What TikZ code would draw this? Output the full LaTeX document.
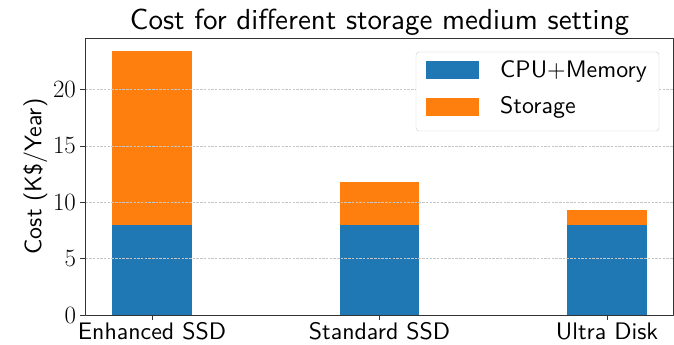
\documentclass[tikz,border=0pt]{standalone}
\usepackage{fontspec}
\setsansfont{lmsans10-regular.otf}
\definecolor{barblue}{HTML}{1F77B4}
\definecolor{barorange}{HTML}{FF7F0E}
\tikzset{
  gridline/.style={black!22,line width=0.7pt,dash pattern=on 2.5pt off 1.2pt},
  axisframe/.style={black!80,line width=0.8pt},
  ticklabel/.style={font=\fontsize{23}{26}\selectfont},
  textlabel/.style={font=\fontsize{23.9}{27}\selectfont\sffamily}
}
\begin{document}
\begin{tikzpicture}[line join=round,line cap=butt,x=1pt,y=1pt]
	\useasboundingbox (0,0) rectangle (674,345);
	\node[font=\fontsize{29}{33}\selectfont\sffamily,anchor=base] (title) at (379.5,315.5) {Cost for different storage medium setting};
	\begin{scope}[shift={(152,30)},x=227.5pt,y=11.27pt]
		\def\costbar#1#2{
			\fill[barblue] (#1-0.175,0) rectangle (#1+0.175,8);
			\fill[barorange] (#1-0.175,8) rectangle (#1+0.175,#2);
		}
		\costbar{0}{23.4}
		\costbar{1}{11.83}
		\costbar{2}{9.35}
		\foreach \v in {5,10,15,20}
			\draw[gridline] (-0.2925,\v) -- (2.2925,\v);
		\foreach \v in {0,5,10,15,20}{
			\draw[axisframe] (-0.2925,\v) -- ++(-5pt,0);
			\node[ticklabel,anchor=east] (y\v) at ([xshift=-6pt]-0.2925,\v) {$\v$};
		}
		\foreach \i/\lab/\nm in {0/Enhanced SSD/xa,1/Standard SSD/xb,2/Ultra Disk/xc}{
			\draw[axisframe] (\i,0) -- ++(0,-5pt);
			\node[textlabel,anchor=north] (\nm) at ([yshift=-4pt]\i,0) {\lab};
		}
		\draw[axisframe] (-0.2925,0) rectangle (2.2925,24.55);
	\end{scope}
	\node[textlabel,rotate=90] (ylabel) at (35.5,168.5) {Cost (K\$/Year)};
	% legend
	\draw[black!20,fill=white,rounded corners=3pt] (416,293) rectangle (659,214);
	\fill[barblue] (426,284) rectangle (479,266);
	\fill[barorange] (426,247) rectangle (479,229);
	\node[textlabel,anchor=base west,inner sep=0pt] (cpu) at (500,267.7) {CPU+Memory};
	\node[textlabel,anchor=base west,inner sep=0pt] (sto) at (500,231) {Storage};
\end{tikzpicture}
\end{document}
